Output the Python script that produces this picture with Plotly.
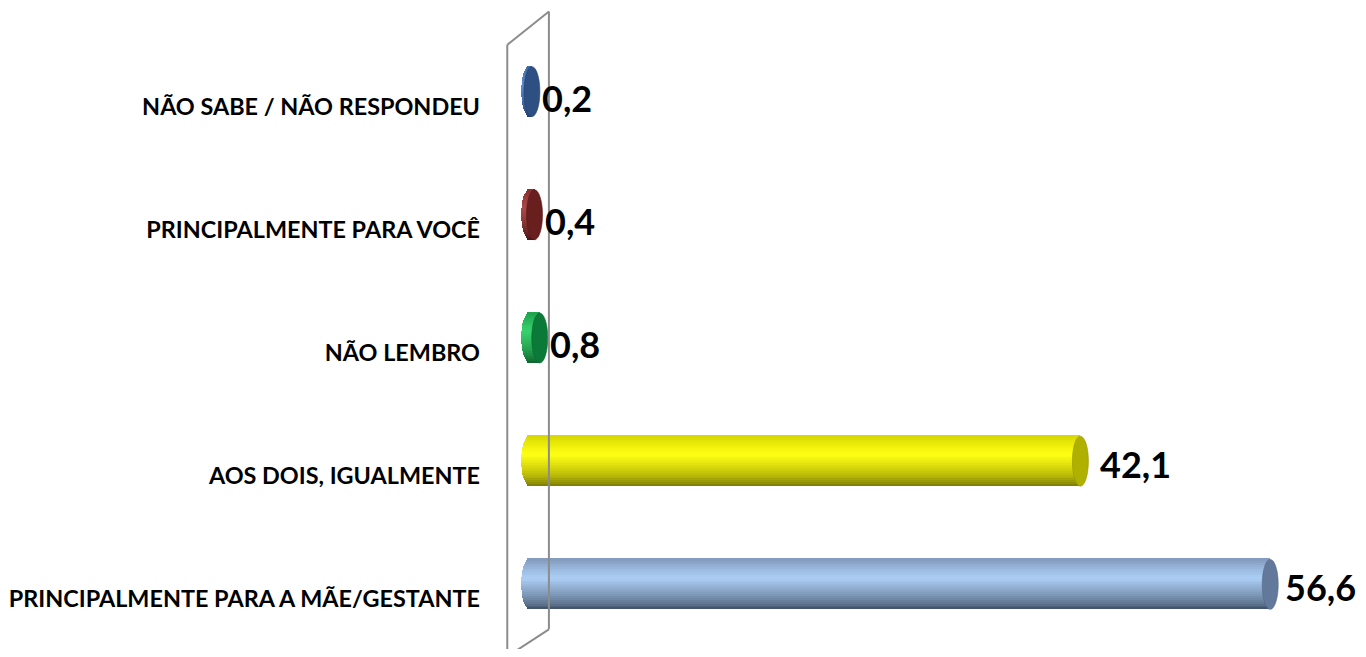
import plotly.graph_objects as go

# ---- data (bottom to top) ----
categories = [
    "PRINCIPALMENTE PARA A MÃE/GESTANTE",
    "AOS DOIS, IGUALMENTE",
    "NÃO LEMBRO",
    "PRINCIPALMENTE PARA VOCÊ",
    "NÃO SABE / NÃO RESPONDEU",
]
values = [56.6, 42.1, 0.8, 0.4, 0.2]
value_labels = ["56,6", "42,1", "0,8", "0,4", "0,2"]

# ---- styling ----
# (bottom shade, highlight, top shade, cap colour) per bar
palette = [
    ("#3a4a60", "#abcdf4", "#8099bb", "#62799b"),
    ("#767600", "#ffff14", "#d6d600", "#b0b000"),
    ("#0a5f28", "#38d06c", "#1ca24c", "#0b7a38"),
    ("#471010", "#a94848", "#862d2d", "#6a1f1f"),
    ("#1d3864", "#5b8bd2", "#3e69a6", "#2d4f82"),
]

PX_PER_UNIT = 13.09
CAP_A = 8.0 / PX_PER_UNIT       # half-width of the end ellipse in x units
THICK = 0.405                   # bar thickness in category units
N_BANDS = 26
LABEL_DROP = 0.12               # category labels sit slightly below bar centres


def hex2rgb(h):
    h = h.lstrip("#")
    return [int(h[i:i + 2], 16) for i in (0, 2, 4)]


def mix(c1, c2, t):
    a, b = hex2rgb(c1), hex2rgb(c2)
    return "rgb(%d,%d,%d)" % tuple(round(a[i] + (b[i] - a[i]) * t) for i in range(3))


def shade(p, t):
    # t: 0 bottom -> 1 top; highlight at t = 0.62
    bottom, hi, top, _ = p
    h = 0.62
    if t <= h:
        s = t / h
        s = s ** 0.7
        return mix(bottom, hi, s)
    s = (t - h) / (1 - h)
    return mix(hi, top, s ** 1.3)


fig = go.Figure()
ypos = list(range(len(categories)))
band_h = THICK / N_BANDS

for k in range(N_BANDS):
    t = (k + 0.5) / N_BANDS
    u = 2 * t - 1
    half = CAP_A * max(0.0, 1 - u * u) ** 0.5
    fig.add_trace(go.Bar(
        orientation="h",
        y=ypos,
        x=[v + half for v in values],
        base=[-half] * len(values),
        width=band_h * 1.6,
        offset=-THICK / 2 + k * band_h,
        marker=dict(color=[shade(p, t) for p in palette], line=dict(width=0)),
        hoverinfo="skip",
        showlegend=False,
    ))

shapes = []
# right-hand end caps
for i, v in enumerate(values):
    shapes.append(dict(
        type="circle", xref="x", yref="y",
        x0=v - CAP_A, x1=v + CAP_A,
        y0=i - THICK / 2, y1=i + THICK / 2,
        fillcolor=palette[i][3],
        line=dict(width=0.6, color=mix(palette[i][3], "#000000", 0.15)),
        layer="above",
    ))

# 3-D wall outline
wall_col = "#8c8c8c"
front_x, back_x = -1.68, 1.5
shapes += [
    dict(type="line", xref="x", yref="paper", x0=front_x, x1=front_x, y0=0.976, y1=-0.05,
         line=dict(color=wall_col, width=2)),
    dict(type="line", xref="x", yref="paper", x0=back_x, x1=back_x, y0=1.03, y1=0.027,
         line=dict(color=wall_col, width=2)),
    dict(type="line", xref="x", yref="paper", x0=front_x, x1=back_x, y0=0.976, y1=1.03,
         line=dict(color=wall_col, width=2)),
    dict(type="line", xref="x", yref="paper", x0=back_x, x1=front_x, y0=0.027, y1=-0.017,
         line=dict(color=wall_col, width=2)),
]

annotations = []
for i, (v, lab) in enumerate(zip(values, value_labels)):
    annotations.append(dict(
        x=v + CAP_A, y=i, xref="x", yref="y",
        text=lab, showarrow=False, xanchor="left", yanchor="middle",
        xshift=(5 if v > 50 else 10) if v > 10 else 0,
        yshift=-3 if v > 10 else -6,
        font=dict(family="Lato", size=36, color="#000000", weight="bold"),
    ))

fig.update_layout(
    width=1350, height=641,
    margin=dict(l=482, r=4, t=22, b=2.5),
    paper_bgcolor="white", plot_bgcolor="white",
    barmode="overlay",
    bargap=0,
    xaxis=dict(range=[-3, 63], visible=False, fixedrange=True),
    yaxis=dict(
        range=[-0.5, 4.5], tickmode="array",
        tickvals=[p - LABEL_DROP for p in ypos], ticktext=categories,
        showgrid=False, zeroline=False, showline=False, ticks="",
        ticklabelstandoff=9, automargin=False,
        tickfont=dict(family="Lato", size=23.4, color="#000000", weight="bold"),
    ),
    shapes=shapes,
    annotations=annotations,
    showlegend=False,
)

fig.write_html("out.html")
